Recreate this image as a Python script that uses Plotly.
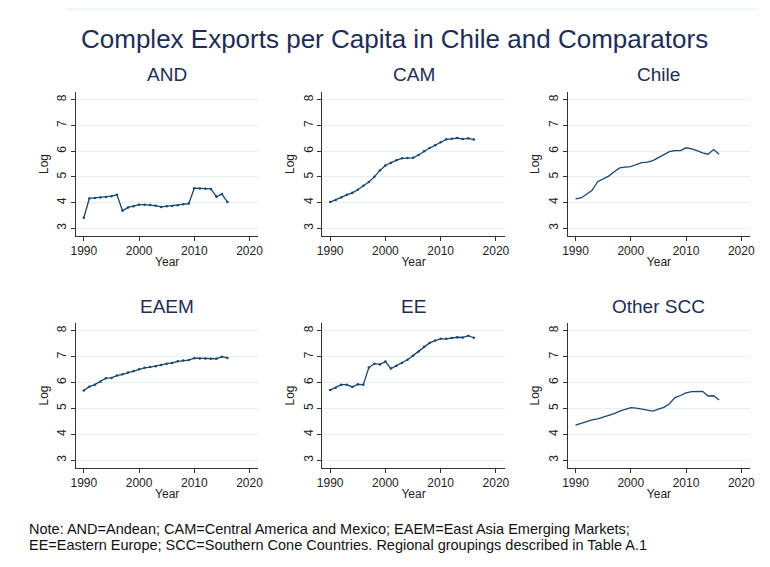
import plotly.graph_objects as go

years = list(range(1990, 2017))

panels = ["AND", "CAM", "Chile", "EAEM", "EE", "Other SCC"]

and_vals = [3.41, 4.16, 4.18, 4.20, 4.22, 4.25, 4.30, 3.68, 3.81, 3.86, 3.92, 3.92, 3.91, 3.88,
            3.83, 3.86, 3.87, 3.90, 3.93, 3.96, 4.56, 4.55, 4.54, 4.53, 4.23, 4.33, 4.02]
cam_vals = [4.02, 4.10, 4.20, 4.30, 4.38, 4.50, 4.65, 4.80, 5.00, 5.25, 5.44, 5.55, 5.65, 5.72,
            5.73, 5.74, 5.85, 6.00, 6.12, 6.23, 6.35, 6.46, 6.48, 6.51, 6.47, 6.50, 6.45]
chile_vals = [4.14, 4.18, 4.32, 4.48, 4.81, 4.92, 5.03, 5.20, 5.35, 5.38, 5.40, 5.48, 5.55, 5.57,
              5.63, 5.75, 5.87, 5.98, 6.02, 6.02, 6.13, 6.09, 6.02, 5.93, 5.88, 6.06, 5.88]
eaem_vals = [5.69, 5.84, 5.92, 6.03, 6.17, 6.18, 6.27, 6.32, 6.39, 6.44, 6.51, 6.57, 6.60, 6.63,
             6.68, 6.73, 6.76, 6.82, 6.85, 6.87, 6.94, 6.93, 6.93, 6.92, 6.92, 7.00, 6.95]
ee_vals = [5.71, 5.80, 5.92, 5.92, 5.83, 5.93, 5.92, 6.58, 6.73, 6.70, 6.81, 6.54, 6.65, 6.76,
           6.88, 7.04, 7.20, 7.38, 7.53, 7.62, 7.69, 7.69, 7.72, 7.75, 7.74, 7.81, 7.73]
scc_vals = [4.36, 4.43, 4.51, 4.56, 4.60, 4.66, 4.73, 4.80, 4.90, 4.95, 5.03, 5.01, 4.98, 4.93,
            4.90, 4.97, 5.04, 5.18, 5.42, 5.50, 5.60, 5.65, 5.65, 5.66, 5.48, 5.49, 5.33]

series = [and_vals, cam_vals, chile_vals, eaem_vals, ee_vals, scc_vals]
x_ticks = [1990, 2000, 2010, 2020]
y_ticks = [3, 4, 5, 6, 7, 8]

note1 = 'Note: AND=Andean; CAM=Central America and Mexico; EAEM=East Asia Emerging Markets;'
note2 = 'EE=Eastern Europe; SCC=Southern Cone Countries. Regional groupings described in Table A.1'

# page body has an 8px margin, so the figure is a bit smaller than the window
OFF = 8
W, H = 754, 551
def fx(px): return (px - OFF) / W
def fy(py): return 1 - (py - OFF) / H

line_col = '#1a476f'
text_col = '#1e2d55'
grid_col = '#e6eff1'
axis_col = '#333333'

# plot-area pixel boxes in window coordinates
col_px = [(71, 256), (321, 506), (570, 755)]
row_px = [(92, 236), (323, 468)]
title_px = [75, 306]

fig = go.Figure()
layout = dict()

for i, name in enumerate(panels):
    r, c = divmod(i, 3)
    k = '' if i == 0 else str(i + 1)
    # Chile and Other SCC are drawn as plain lines in the original
    mode = 'lines' if name in ('Chile', 'Other SCC') else 'lines+markers'
    fig.add_trace(
        go.Scatter(
            x=years, y=series[i],
            mode=mode,
            line=dict(color=line_col, width=1.3),
            marker=dict(color=line_col, size=2.5),
            xaxis='x' + k, yaxis='y' + k,
            showlegend=False,
        )
    )
    x0, x1 = col_px[c]
    t, b = row_px[r]
    layout['xaxis' + k] = dict(
        domain=[fx(x0), fx(x1)], anchor='y' + k,
        range=[1988.6, 2021.6], tickvals=x_ticks,
        showgrid=False, zeroline=False,
        showline=True, linecolor=axis_col, linewidth=1,
        ticks='outside', ticklen=4, tickcolor=axis_col,
        tickfont=dict(size=12, color='#222222'),
        title=dict(text='Year', font=dict(size=12, color='#222222'), standoff=0),
    )
    layout['yaxis' + k] = dict(
        domain=[fy(b), fy(t)], anchor='x' + k,
        range=[2.7, 8.3], tickvals=y_ticks, tickangle=-90,
        showgrid=True, gridcolor=grid_col, gridwidth=1, zeroline=False,
        showline=True, linecolor=axis_col, linewidth=1,
        ticks='outside', ticklen=4, tickcolor=axis_col,
        tickfont=dict(size=12, color='#222222'),
        title=dict(text='Log', font=dict(size=12, color='#222222'), standoff=4),
    )
    fig.add_annotation(
        text=name, xref='paper', yref='paper',
        x=fx((x0 + x1) / 2), y=fy(title_px[r]),
        xanchor='center', yanchor='middle',
        showarrow=False, font=dict(size=19, color=text_col),
    )

fig.update_layout(
    width=W, height=H,
    margin=dict(t=0, l=0, r=0, b=0),
    plot_bgcolor='white', paper_bgcolor='white',
    font=dict(family='Liberation Sans, Arial, sans-serif'),
    **layout,
)

fig.add_annotation(
    text='Complex Exports per Capita in Chile and Comparators',
    xref='paper', yref='paper', x=fx(394), y=fy(39),
    xanchor='center', yanchor='middle',
    showarrow=False, font=dict(size=26, color=text_col),
)

fig.add_shape(type='line', xref='paper', yref='paper', x0=fx(60), x1=fx(762),
              y0=fy(9), y1=fy(9), line=dict(color='#e3ecee', width=1))

for txt, ypx in [(note1, 529), (note2, 545)]:
    fig.add_annotation(
        text=txt, xref='paper', yref='paper', x=fx(21), y=fy(ypx),
        xanchor='left', yanchor='middle', align='left', showarrow=False,
        font=dict(size=14.5, color='#111111'),
    )

fig.write_html("out.html")
